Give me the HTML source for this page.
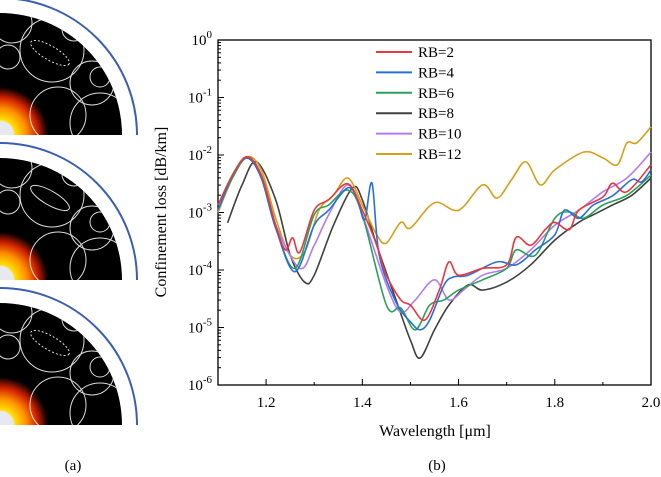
<!DOCTYPE html>
<html><head><meta charset="utf-8"><style>
html,body{margin:0;padding:0;background:#fff;width:661px;height:477px;overflow:hidden}
svg{display:block;font-family:"Liberation Serif",serif}
</style></head><body>
<svg id="root" width="661" height="477" viewBox="0 0 661 477">
<defs id="defs">
<radialGradient id="hot" cx="0" cy="1" r="1">
<stop offset="0" stop-color="#e8e8f0"/><stop offset="0.28" stop-color="#e8e8f0"/>
<stop offset="0.32" stop-color="#ffe000"/><stop offset="0.55" stop-color="#ff9000"/>
<stop offset="0.78" stop-color="#d02000"/><stop offset="1" stop-color="#000"/>
</radialGradient>
</defs>
<g id="panels"></g>
<g id="chart"></g>
<text x="73" y="470" font-size="15" text-anchor="middle">(a)</text>
<text x="437" y="470" font-size="15" text-anchor="middle">(b)</text>
</svg>
<script>
const NS="http://www.w3.org/2000/svg";
function mk(t,a,p){const e=document.createElementNS(NS,t);for(const k in a)e.setAttribute(k,a[k]);p.appendChild(e);return e;}

// ---------- left panels ----------
const panels=document.getElementById('panels');
const defs=document.getElementById('defs');
[135,280,425].forEach((by,i)=>{
  const R=122;
  const disk=`M0 ${by} L0 ${by-R} A${R} ${R} 0 0 1 ${R} ${by} Z`;
  const cp=mk('clipPath',{id:'cp'+i},defs);
  mk('path',{d:disk},cp);
  const g=mk('g',{},panels);
  
  
  mk('path',{d:disk,fill:'#000'},g);
  mk('path',{d:`M0 ${by} L0 ${by-48} A48 48 0 0 1 48 ${by} Z`,fill:'url(#hot)'},g);
  mk('path',{d:`M0 ${by-137} A137 137 0 0 1 137 ${by}`,fill:'none',stroke:'#3a5fb0','stroke-width':2},g);
  const cg=mk('g',{'clip-path':`url(#cp${i})`},g);
  const cs=[[12,-112,20],[52,-85,32],[92,-52,22],[100,-12,30],[58,-20,28],[8,-78,12],[74,-106,12],[100,-58,10]];
  cs.forEach(c=>mk('circle',{cx:c[0],cy:by+c[1],r:c[2],fill:'none',stroke:'#ddd','stroke-width':1},cg));
  mk('ellipse',{cx:50,cy:by-82,rx:22,ry:7,transform:`rotate(30 50 ${by-82})`,fill:'none',stroke:'#ddd','stroke-dasharray':i==1?'none':'2 2'},cg);
});

// ---------- chart data ----------
const series=['RB=2','RB=4','RB=6','RB=8','RB=10','RB=12'];
const colors=['#e8383d','#2a6fd6','#2aa05a','#404040','#b27cf0','#d4a017'];
const wlRB2=[1.10,1.13,1.16,1.19,1.22,1.24,1.255,1.27,1.30,1.33,1.37,1.40,1.43,1.45,1.48,1.50,1.53,1.56,1.58,1.60,1.65,1.70,1.72,1.75,1.78,1.80,1.83,1.85,1.90,1.92,1.95,2.00];
const logRB2=[-2.87,-2.35,-2.03,-2.35,-3.22,-3.65,-3.44,-3.69,-2.96,-2.78,-2.50,-2.96,-3.57,-4.09,-4.52,-4.61,-4.87,-4.35,-3.86,-4.09,-3.97,-3.91,-3.43,-3.57,-3.30,-3.17,-3.30,-2.96,-2.73,-2.49,-2.64,-2.17];
const wlRB4=[1.10,1.13,1.16,1.19,1.22,1.26,1.30,1.33,1.37,1.39,1.405,1.42,1.435,1.47,1.50,1.52,1.54,1.57,1.59,1.62,1.68,1.72,1.76,1.80,1.82,1.85,1.88,1.92,1.96,1.98,2.00];
const logRB4=[-2.96,-2.35,-2.05,-2.40,-3.27,-4.03,-3.22,-2.96,-2.57,-2.78,-3.13,-2.49,-3.74,-4.56,-4.90,-5.04,-4.87,-4.26,-4.12,-4.09,-3.86,-3.91,-3.65,-3.39,-2.96,-3.10,-2.87,-2.71,-2.43,-2.47,-2.26];
const wlRB6=[1.10,1.13,1.16,1.19,1.22,1.26,1.30,1.33,1.37,1.40,1.45,1.48,1.51,1.54,1.57,1.60,1.65,1.70,1.72,1.76,1.80,1.83,1.86,1.90,1.95,2.00];
const logRB6=[-2.96,-2.40,-2.05,-2.40,-3.27,-3.97,-3.04,-2.87,-2.61,-3.04,-4.61,-4.66,-5.04,-4.61,-4.52,-4.35,-4.17,-3.97,-3.65,-3.74,-3.10,-2.99,-3.10,-2.87,-2.70,-2.35];
const wlRB8=[1.12,1.15,1.18,1.22,1.25,1.28,1.30,1.34,1.38,1.40,1.43,1.47,1.50,1.52,1.55,1.58,1.62,1.65,1.70,1.75,1.80,1.85,1.88,1.92,1.96,2.00];
const logRB8=[-3.18,-2.52,-2.12,-2.78,-3.74,-4.21,-4.09,-3.22,-2.57,-2.78,-3.57,-4.52,-5.22,-5.53,-5.04,-4.61,-4.26,-4.35,-4.21,-3.91,-3.48,-3.17,-3.04,-2.87,-2.70,-2.40];
const wlRB10=[1.10,1.13,1.16,1.19,1.22,1.27,1.30,1.33,1.37,1.40,1.45,1.48,1.51,1.55,1.58,1.61,1.65,1.70,1.75,1.80,1.85,1.90,1.95,2.00];
const logRB10=[-2.96,-2.40,-2.05,-2.35,-3.22,-3.97,-3.57,-3.04,-2.52,-3.04,-4.26,-4.73,-4.52,-4.17,-4.52,-4.35,-4.09,-3.97,-3.65,-3.22,-2.96,-2.64,-2.40,-1.95];
const wlRB12=[1.10,1.13,1.16,1.19,1.22,1.25,1.28,1.31,1.34,1.37,1.40,1.43,1.45,1.48,1.50,1.55,1.60,1.65,1.68,1.71,1.74,1.77,1.80,1.86,1.90,1.93,1.95,1.97,2.00];
const logRB12=[-3.00,-2.40,-2.03,-2.26,-3.10,-3.74,-3.69,-2.96,-2.70,-2.40,-2.87,-3.39,-3.53,-3.17,-3.27,-2.83,-2.96,-2.52,-2.75,-2.43,-2.12,-2.52,-2.26,-1.95,-2.05,-2.17,-1.79,-1.79,-1.51];
const xTicks=[1.2,1.4,1.6,1.8,2.0];
const xTickLabels=['1.2','1.4','1.6','1.8','2.0'];
const yExps=[0,-1,-2,-3,-4,-5,-6];

// ---------- axes ----------
const L=218,R=651,T=40,B=385,X0=1.1,X1=2.0;
const xs=v=>L+(v-X0)/(X1-X0)*(R-L);
const ys=e=>T+(0-e)/6*(B-T);
const chart=document.getElementById('chart');
const frame=mk('rect',{x:L,y:T,width:R-L,height:B-T,fill:'none',stroke:'#000','stroke-width':1.3},chart);



xTicks.forEach((v,i)=>{
  mk('line',{x1:xs(v),x2:xs(v),y1:B,y2:B-6,stroke:'#000'},chart);
  const t=mk('text',{x:xs(v),y:B+22,'font-size':15,'text-anchor':'middle'},chart);
  t.textContent=xTickLabels[i];
  
  
});
for(let v=1.1;v<2.0;v+=0.2){mk('line',{x1:xs(v),x2:xs(v),y1:B,y2:B-3,stroke:'#000'},chart);}
yExps.forEach(e=>{
  mk('line',{x1:L,x2:L+6,y1:ys(e),y2:ys(e),stroke:'#000'},chart);
  if(e>-6)for(let k=2;k<10;k++){const yy=ys(e-1+Math.log10(k));mk('line',{x1:L,x2:L+3,y1:yy,y2:yy,stroke:'#000'},chart);}
  const t=mk('text',{x:L-6,y:ys(e)+5,'font-size':15,'text-anchor':'end'},chart);
  t.textContent='10';
  const s=mk('tspan',{dy:-7,'font-size':11},t);s.textContent=String(e);
  
  
});
const xt=mk('text',{x:435,y:436,'font-size':16,'text-anchor':'middle'},chart);
xt.textContent='Wavelength [\u03bcm]';


const yt=mk('text',{x:0,y:0,'font-size':16,'text-anchor':'middle',transform:'translate(166,212) rotate(-90)'},chart);
yt.textContent='Confinement loss [dB/km]';



// ---------- series ----------
function smooth(p){
  let d=`M${p[0][0]} ${p[0][1]}`;
  for(let i=0;i<p.length-1;i++){
    const p0=p[i-1]||p[i],p1=p[i],p2=p[i+1],p3=p[i+2]||p2;
    const c1=[p1[0]+(p2[0]-p0[0])/6,p1[1]+(p2[1]-p0[1])/6];
    const c2=[p2[0]-(p3[0]-p1[0])/6,p2[1]-(p3[1]-p1[1])/6];
    d+=` C${c1[0].toFixed(1)} ${c1[1].toFixed(1)} ${c2[0].toFixed(1)} ${c2[1].toFixed(1)} ${p2[0].toFixed(1)} ${p2[1].toFixed(1)}`;
  }
  return d;
}
const wls=[wlRB2,wlRB4,wlRB6,wlRB8,wlRB10,wlRB12];
const logs=[logRB2,logRB4,logRB6,logRB8,logRB10,logRB12];
const order=[3,5,4,2,1,0];
order.forEach(i=>{
  const pts=wls[i].map((w,j)=>[xs(w),ys(logs[i][j])]);
  const p=mk('path',{d:smooth(pts),fill:'none',stroke:colors[i],'stroke-width':1.6},chart);
  
  
});

// ---------- legend ----------
series.forEach((s,i)=>{
  const y=52+i*20.4;
  const g=mk('g',{},chart);
  
  
  mk('line',{x1:376,x2:412,y1:y,y2:y,stroke:colors[i],'stroke-width':2},g);
  const t=mk('text',{x:418,y:y+5,'font-size':15},g);t.textContent=s;
});
</script>
</body></html>
